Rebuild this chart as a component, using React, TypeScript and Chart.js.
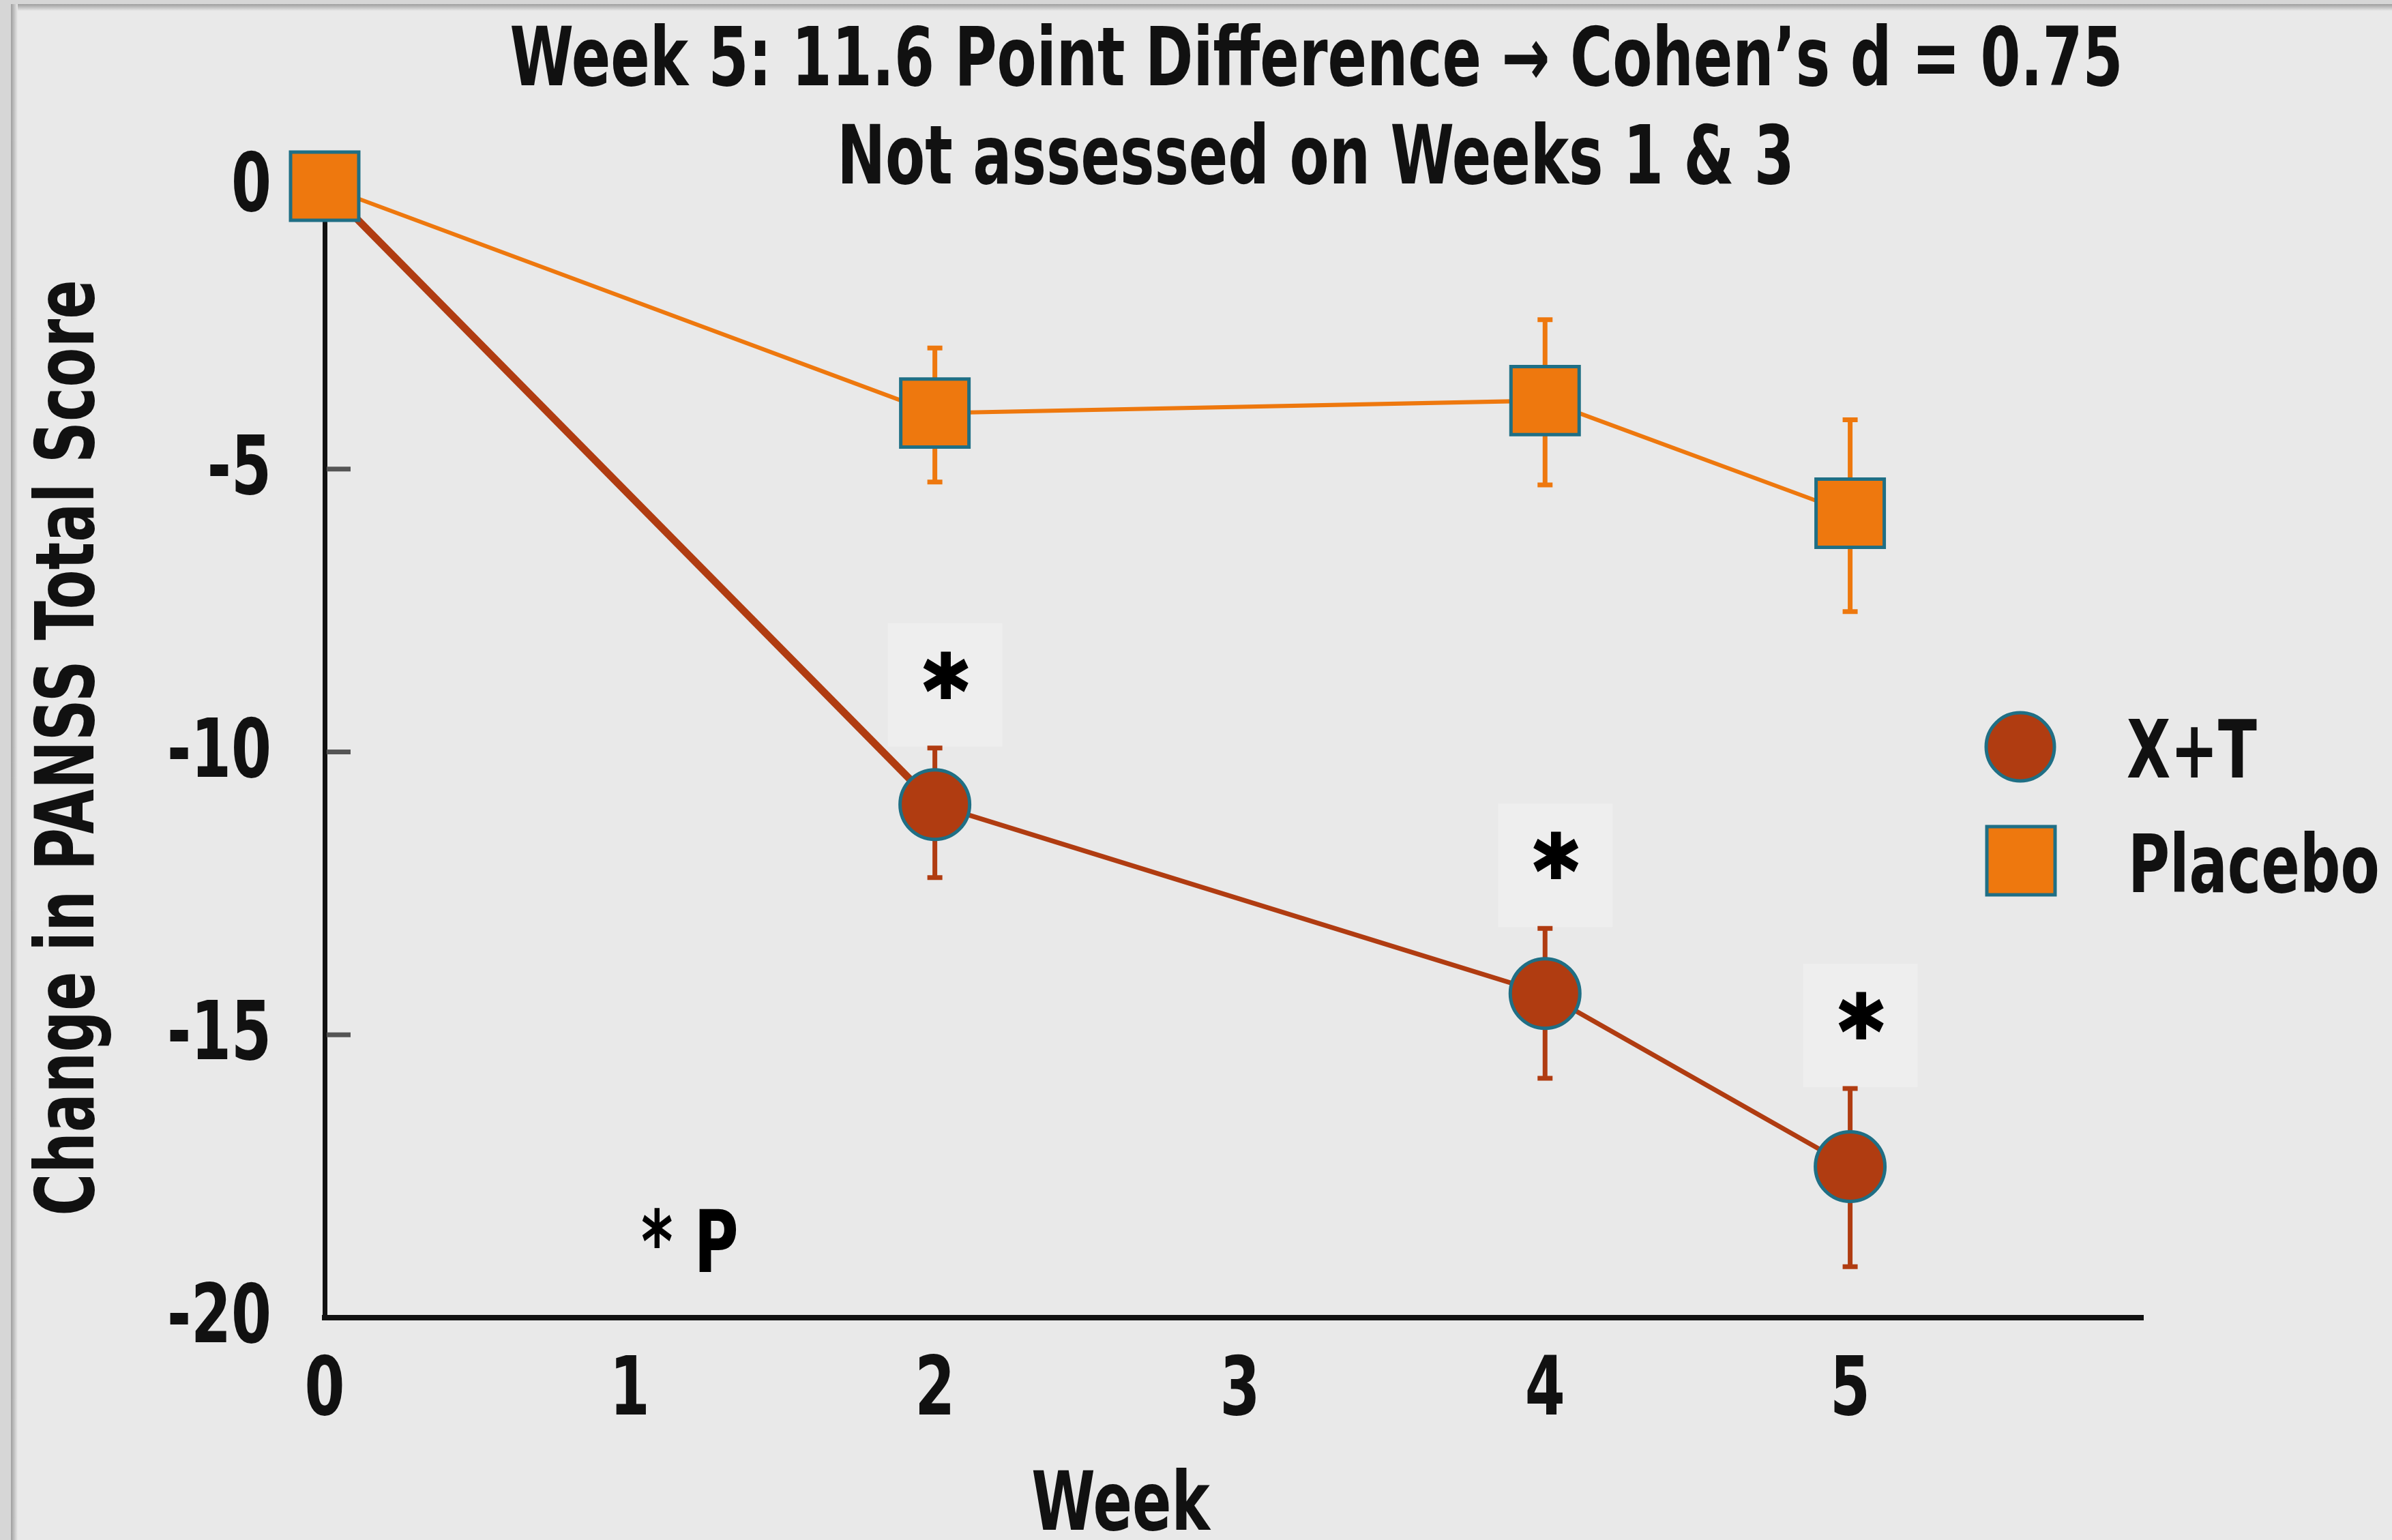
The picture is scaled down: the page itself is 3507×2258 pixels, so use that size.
import React, { useEffect, useRef } from 'react';
import { Chart, registerables } from 'chart.js';

Chart.register(...registerables);

// ---- data ----
const weeks = [0, 2, 4, 5];
const xTickValues = [0, 1, 2, 3, 4, 5];
const yTickValues = [0, -5, -10, -15, -20];
const xtMean = [0, -10.93, -14.27, -17.33];
const xtUpper = [0, -9.93, -13.12, -15.95];
const xtLower = [0, -12.22, -15.77, -19.1];
const pbMean = [0, -4.01, -3.79, -5.78];
const pbUpper = [0, -2.86, -2.36, -4.13];
const pbLower = [0, -5.23, -5.28, -7.52];
const significantWeeks = [2, 4, 5];
const seriesNames = ['X+T', 'Placebo'];
const titleLines = ['Week 5: 11.6 Point Difference \u2192 Cohen\u2019s d = 0.75', 'Not assessed on Weeks 1 & 3'];
const xAxisTitle = 'Week';
const yAxisTitle = 'Change in PANSS Total Score';
const footnote = '* P';

// ---- style ----
const FONT = '"Liberation Sans Narrow", "DejaVu Sans Condensed", "Arial Narrow", sans-serif';
const CONDENSE = 0.785;
const BG = '#E9E9E9';
const XT = '#B03C11';
const PB = '#EE780E';
const TEAL = '#1F6F85';
const INK = '#111111';

function drawText(
  ctx: CanvasRenderingContext2D,
  text: string,
  x: number,
  y: number,
  size: number,
  align: CanvasTextAlign,
  rotation = 0,
  color = INK,
  condense = CONDENSE,
  outline = 0
) {
  ctx.save();
  ctx.translate(x, y);
  if (rotation) ctx.rotate(rotation);
  ctx.scale(condense, 1);
  ctx.font = `bold ${size}px ${FONT}`;
  ctx.fillStyle = color;
  ctx.textAlign = align;
  ctx.textBaseline = 'alphabetic';
  ctx.fillText(text, 0, 0);
  if (outline) {
    ctx.strokeStyle = color;
    ctx.lineWidth = outline;
    ctx.lineJoin = 'miter';
    ctx.strokeText(text, 0, 0);
  }
  ctx.restore();
}

const decor = {
  id: 'decor',
  beforeDraw(chart: any) {
    const { ctx, width, height } = chart;
    ctx.save();
    ctx.fillStyle = '#D6D6D6';
    ctx.fillRect(0, 0, width, height);
    ctx.fillStyle = BG;
    ctx.fillRect(16, 6, width - 16, height - 6);
    let g = ctx.createLinearGradient(0, 6, 0, 16);
    g.addColorStop(0, '#9E9E9E');
    g.addColorStop(1, BG);
    ctx.fillStyle = g;
    ctx.fillRect(16, 6, width - 16, 10);
    g = ctx.createLinearGradient(16, 0, 26, 0);
    g.addColorStop(0, '#9E9E9E');
    g.addColorStop(1, BG);
    ctx.fillStyle = g;
    ctx.fillRect(16, 6, 10, height - 6);
    ctx.restore();
  },
  beforeDatasetsDraw(chart: any) {
    const { ctx } = chart;
    const xs = chart.scales.x;
    const ys = chart.scales.y;
    ctx.save();
    // inward y ticks
    const ax = xs.getPixelForValue(0);
    ctx.strokeStyle = '#555555';
    ctx.lineWidth = 7;
    ys.ticks.forEach((t: any) => {
      if (t.value === ys.min || t.value === ys.max) return;
      const py = ys.getPixelForValue(t.value);
      ctx.beginPath();
      ctx.moveTo(ax + 3, py);
      ctx.lineTo(ax + 38, py);
      ctx.stroke();
    });
    // significance boxes + stars
    significantWeeks.forEach((w) => {
      const i = weeks.indexOf(w);
      const px = xs.getPixelForValue(w);
      const top = ys.getPixelForValue(xtUpper[i]);
      ctx.fillStyle = '#EEEEEE';
      ctx.fillRect(px + 15 - 84, top - 183, 168, 181);
      drawText(ctx, '*', px + 16, top - 113 + 78, 140, 'center', 0, '#000000', 1, 4);
    });
    // error bars
    const bars = [
      { up: xtUpper, lo: xtLower, color: XT },
      { up: pbUpper, lo: pbLower, color: PB },
    ];
    bars.forEach((b) => {
      ctx.strokeStyle = b.color;
      ctx.lineWidth = 7;
      weeks.forEach((w, i) => {
        if (b.up[i] === b.lo[i]) return;
        const px = xs.getPixelForValue(w);
        const yu = ys.getPixelForValue(b.up[i]);
        const yl = ys.getPixelForValue(b.lo[i]);
        ctx.beginPath();
        ctx.moveTo(px, yu);
        ctx.lineTo(px, yl);
        ctx.moveTo(px - 11, yu);
        ctx.lineTo(px + 11, yu);
        ctx.moveTo(px - 11, yl);
        ctx.lineTo(px + 11, yl);
        ctx.stroke();
      });
    });
    ctx.restore();
  },
  afterDraw(chart: any) {
    const { ctx } = chart;
    const xs = chart.scales.x;
    const ys = chart.scales.y;
    // tick labels from the scales
    xs.ticks.forEach((t: any) => {
      drawText(ctx, String(t.value), xs.getPixelForValue(t.value), 2074, 120, 'center');
    });
    ys.ticks.forEach((t: any) => {
      drawText(ctx, String(t.value), 398, ys.getPixelForValue(t.value) + 36, 120, 'right');
    });
    // axis titles
    drawText(ctx, yAxisTitle, 137, (ys.top + ys.bottom) / 2 - 6, 120, 'center', -Math.PI / 2);
    drawText(ctx, xAxisTitle, 1643, 2243, 120, 'center');
    // chart titles
    drawText(ctx, titleLines[0], 1930, 125, 120, 'center');
    drawText(ctx, titleLines[1], 1929, 269, 120, 'center');
    // footnote
    drawText(ctx, footnote, 940, 1865, 126, 'left', 0, '#000000');
    // legend
    ctx.save();
    ctx.fillStyle = XT;
    ctx.strokeStyle = TEAL;
    ctx.lineWidth = 5;
    ctx.beginPath();
    ctx.arc(2962, 1095, 50, 0, Math.PI * 2);
    ctx.fill();
    ctx.stroke();
    ctx.fillStyle = PB;
    ctx.beginPath();
    ctx.rect(2913, 1212, 100, 100);
    ctx.fill();
    ctx.stroke();
    ctx.restore();
    drawText(ctx, seriesNames[0], 3118, 1140, 118, 'left');
    drawText(ctx, seriesNames[1], 3120, 1308, 118, 'left');
  },
};

export default function App() {
  const ref = useRef<HTMLCanvasElement | null>(null);
  useEffect(() => {
    document.body.style.margin = '0';
    document.body.style.background = BG;
    const canvas = ref.current;
    if (!canvas) return;
    const chart = new Chart(canvas, {
      type: 'line',
      data: {
        datasets: [
          {
            label: seriesNames[0],
            data: weeks.map((w, i) => ({ x: w, y: xtMean[i] })),
            borderColor: XT,
            backgroundColor: XT,
            borderWidth: 7,
            segment: { borderWidth: (c: any) => (c.p0DataIndex === 0 ? 11 : 7) },
            pointStyle: 'circle',
            pointRadius: (c: any) => (c.dataIndex === 0 ? 0 : 51),
            pointBackgroundColor: XT,
            pointBorderColor: TEAL,
            pointBorderWidth: 5,
            order: 2,
            clip: false as any,
            tension: 0,
          } as any,
          {
            label: seriesNames[1],
            data: weeks.map((w, i) => ({ x: w, y: pbMean[i] })),
            borderColor: PB,
            backgroundColor: PB,
            borderWidth: 6,
            pointStyle: 'rect',
            pointRadius: 70.7,
            pointBackgroundColor: PB,
            pointBorderColor: TEAL,
            pointBorderWidth: 5,
            order: 1,
            clip: false as any,
            tension: 0,
          } as any,
        ],
      },
      options: {
        responsive: false,
        devicePixelRatio: 1,
        animation: false,
        events: [],
        layout: { padding: { top: 273, right: 365, left: 0, bottom: 0 } },
        plugins: { legend: { display: false }, tooltip: { enabled: false }, title: { display: false } },
        scales: {
          x: {
            type: 'linear',
            min: 0,
            max: 5.96,
            afterBuildTicks: (s: any) => {
              s.ticks = xTickValues.map((v) => ({ value: v }));
            },
            afterFit: (s: any) => {
              s.height = 326;
            },
            grid: { display: false, drawTicks: false },
            border: { display: true, color: INK, width: 8 },
            ticks: { display: false },
            title: { display: false, text: xAxisTitle },
          },
          y: {
            type: 'linear',
            min: -20,
            max: 0,
            afterBuildTicks: (s: any) => {
              s.ticks = yTickValues.map((v) => ({ value: v }));
            },
            afterFit: (s: any) => {
              s.width = 476;
            },
            grid: { display: false, drawTicks: false },
            border: { display: true, color: INK, width: 7 },
            ticks: { display: false },
            title: { display: false, text: yAxisTitle },
          },
        },
      } as any,
      plugins: [decor],
    });
    return () => chart.destroy();
  }, []);
  return <canvas ref={ref} width={3507} height={2258} style={{ display: 'block', width: 3507, height: 2258 }} />;
}
